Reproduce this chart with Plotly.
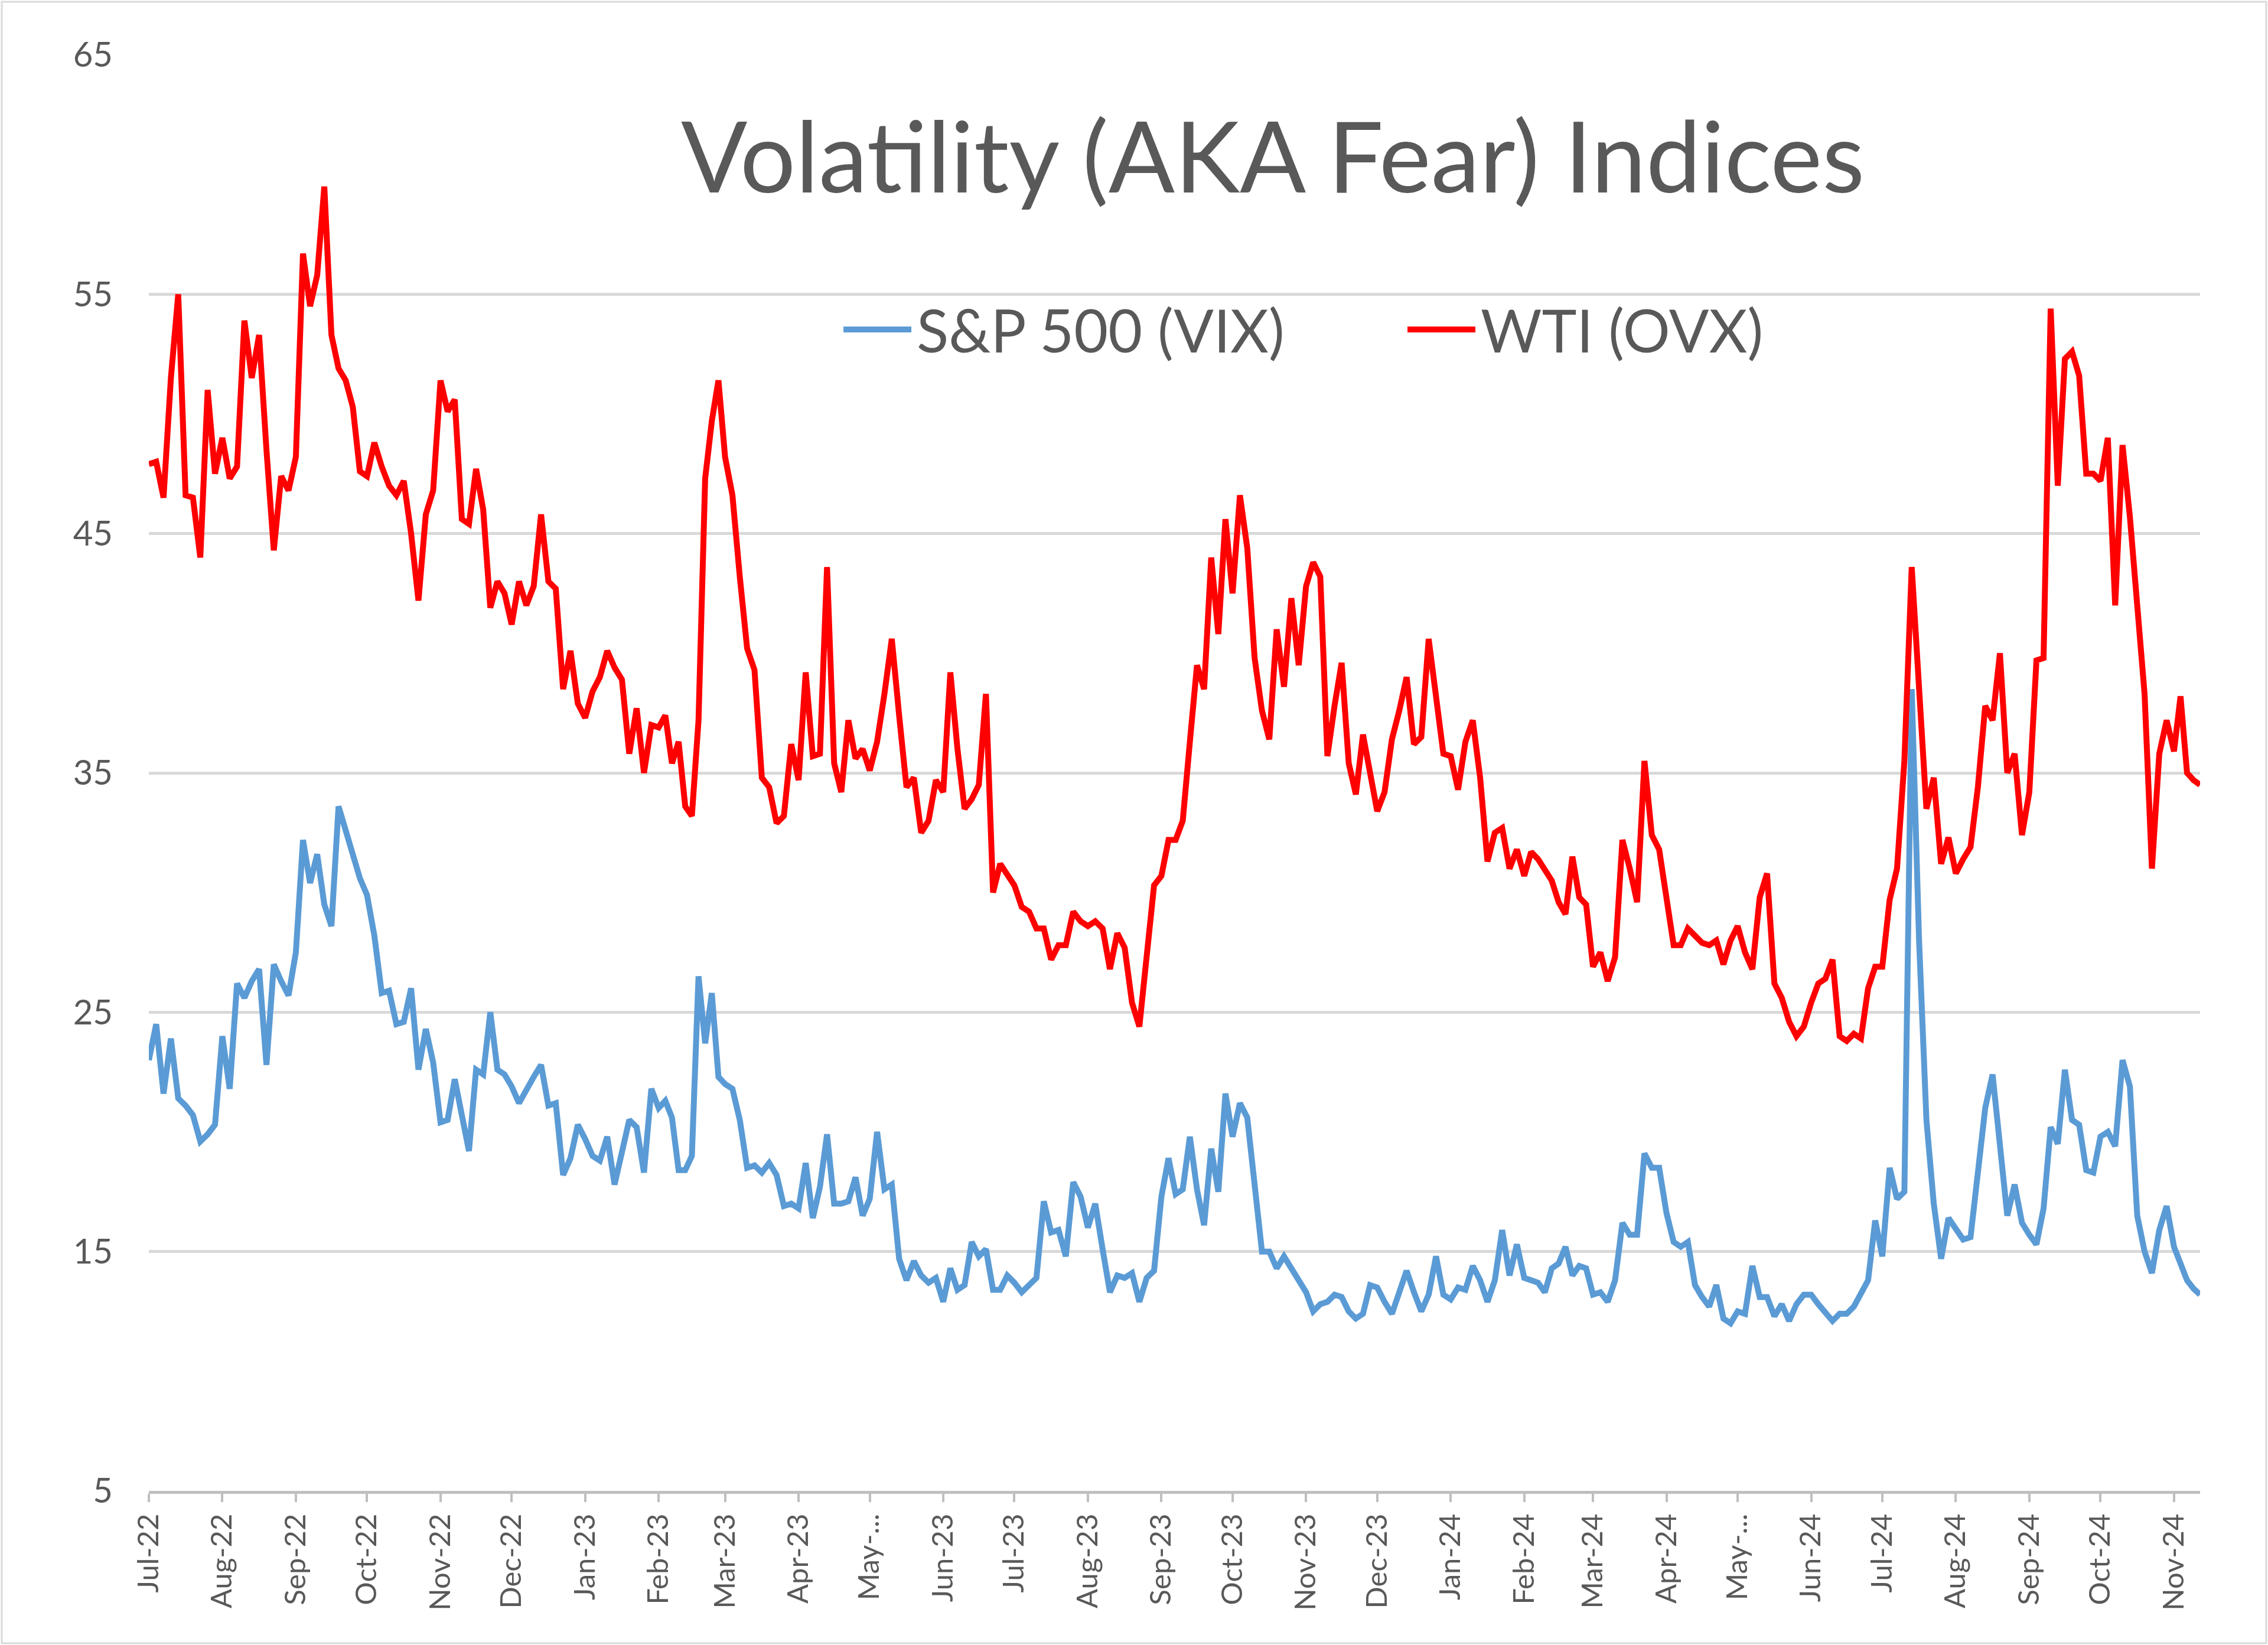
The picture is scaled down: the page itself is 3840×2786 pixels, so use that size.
import pandas as pd
import plotly.graph_objects as go

# Month tick labels (as shown on the reference x axis)
tick_labels = ["Jul-22", "Aug-22", "Sep-22", "Oct-22", "Nov-22", "Dec-22",
               "Jan-23", "Feb-23", "Mar-23", "Apr-23", "May-...", "Jun-23",
               "Jul-23", "Aug-23", "Sep-23", "Oct-23", "Nov-23", "Dec-23",
               "Jan-24", "Feb-24", "Mar-24", "Apr-24", "May-...", "Jun-24",
               "Jul-24", "Aug-24", "Sep-24", "Oct-24", "Nov-24"]
month_starts = pd.date_range("2022-07-01", "2024-11-01", freq="MS")
end_date = pd.Timestamp("2024-11-12")
PER_MONTH = 10  # readings per month (last month is partial)

# S&P 500 volatility (VIX), 10 readings per month
vix = [
    23.0, 24.5, 21.6, 23.9, 21.4, 21.1, 20.7, 19.6, 19.9, 20.3,   # Jul-22
    24.0, 21.8, 26.2, 25.6, 26.3, 26.8, 22.8, 27.0, 26.3, 25.7,   # Aug-22
    27.5, 32.2, 30.4, 31.6, 29.5, 28.6, 33.6, 32.6, 31.8, 30.6,   # Sep-22
    29.9, 28.2, 25.8, 25.9, 24.5, 24.6, 26.0, 22.6, 24.3, 22.9,   # Oct-22
    20.4, 20.5, 22.2, 20.8, 19.2, 22.6, 22.4, 25.0, 22.6, 22.4,   # Nov-22
    21.9, 21.2, 21.8, 22.3, 22.8, 21.1, 21.2, 18.2, 18.9, 20.3,   # Dec-22
    19.7, 19.0, 18.8, 19.8, 17.8, 19.2, 20.5, 20.2, 18.3, 21.8,   # Jan-23
    21.0, 21.3, 20.6, 18.4, 18.4, 19.0, 26.5, 23.7, 25.8, 22.3,   # Feb-23
    22.0, 21.8, 20.5, 18.5, 18.6, 18.3, 18.7, 18.2, 16.9, 17.0,   # Mar-23
    16.8, 18.7, 16.4, 17.7, 19.9, 17.0, 17.0, 17.1, 18.1, 16.5,   # Apr-23
    17.2, 20.0, 17.6, 17.8, 14.7, 13.8, 14.6, 14.0, 13.7, 13.9,   # May-23
    12.9, 14.3, 13.4, 13.6, 15.4, 14.8, 15.1, 13.4, 13.4, 14.0,   # Jun-23
    13.7, 13.3, 13.6, 13.9, 17.1, 15.8, 15.9, 14.8, 17.9, 17.3,   # Jul-23
    16.0, 17.0, 15.1, 13.3, 14.0, 13.9, 14.1, 12.9, 13.9, 14.2,   # Aug-23
    17.3, 18.9, 17.4, 17.6, 19.8, 17.6, 16.1, 19.3, 17.5, 21.6,   # Sep-23
    19.8, 21.2, 20.6, 17.5, 15.0, 15.0, 14.3, 14.8, 14.3, 13.7,   # Oct-23
    13.3, 12.5, 12.8, 12.9, 13.2, 13.1, 12.5, 12.2, 12.4, 13.6,   # Nov-23
    13.5, 12.9, 12.4, 13.3, 14.2, 13.3, 12.5, 13.2, 14.8, 13.2,   # Dec-23
    13.0, 13.5, 13.4, 14.4, 13.8, 12.9, 13.8, 15.9, 14.0, 15.3,   # Jan-24
    13.9, 13.8, 13.7, 13.3, 14.3, 14.5, 15.2, 14.0, 14.4, 14.3,   # Feb-24
    13.2, 13.3, 12.9, 13.8, 16.2, 15.7, 15.7, 19.1, 18.5, 18.5,   # Mar-24
    16.6, 15.4, 15.2, 15.4, 13.6, 13.1, 12.7, 13.6, 12.2, 12.0,   # Apr-24
    12.5, 12.4, 14.4, 13.1, 13.1, 12.3, 12.8, 12.1, 12.8, 13.2,   # May-24
    13.2, 12.8, 12.4, 12.1, 12.4, 12.4, 12.7, 13.2, 13.8, 16.3,   # Jun-24
    14.8, 18.5, 17.2, 17.5, 38.5, 28.0, 20.5, 17.0, 14.7, 16.4,   # Jul-24
    16.0, 15.5, 15.6, 18.5, 21.0, 22.4, 19.3, 16.5, 17.8, 16.2,   # Aug-24
    15.7, 15.3, 16.8, 20.2, 19.5, 22.6, 20.5, 20.3, 18.4, 18.3,   # Sep-24
    19.8, 20.0, 19.4, 23.0, 21.9, 16.5, 15.0, 14.1, 15.9, 16.9,   # Oct-24
    15.2, 14.5, 13.8, 13.45, 13.2,                                # Nov-24
]

# Crude oil volatility (OVX), 10 readings per month
ovx = [
    47.9, 48.0, 46.5, 51.5, 55.0, 46.6, 46.5, 44.0, 51.0, 47.5,   # Jul-22
    49.0, 47.3, 47.8, 53.9, 51.5, 53.3, 48.5, 44.3, 47.4, 46.8,   # Aug-22
    48.2, 56.7, 54.5, 55.8, 59.5, 53.3, 51.9, 51.4, 50.3, 47.6,   # Sep-22
    47.4, 48.8, 47.8, 47.0, 46.6, 47.2, 45.0, 42.2, 45.8, 46.8,   # Oct-22
    51.4, 50.1, 50.6, 45.6, 45.4, 47.7, 46.0, 41.9, 43.0, 42.5,   # Nov-22
    41.2, 43.0, 42.0, 42.8, 45.8, 43.0, 42.7, 38.5, 40.1, 37.9,   # Dec-22
    37.3, 38.4, 39.0, 40.1, 39.4, 38.9, 35.8, 37.7, 35.0, 37.0,   # Jan-23
    36.9, 37.4, 35.4, 36.3, 33.6, 33.2, 37.2, 47.3, 49.7, 51.4,   # Feb-23
    48.2, 46.6, 43.2, 40.2, 39.3, 34.8, 34.4, 32.9, 33.2, 36.2,   # Mar-23
    34.7, 39.2, 35.7, 35.8, 43.6, 35.4, 34.2, 37.2, 35.6, 36.0,   # Apr-23
    35.1, 36.3, 38.3, 40.6, 37.4, 34.4, 34.8, 32.5, 33.0, 34.7,   # May-23
    34.2, 39.2, 36.0, 33.5, 33.9, 34.5, 38.3, 30.0, 31.2, 30.8,   # Jun-23
    30.3, 29.4, 29.2, 28.5, 28.5, 27.2, 27.8, 27.8, 29.2, 28.8,   # Jul-23
    28.6, 28.8, 28.5, 26.8, 28.3, 27.7, 25.4, 24.4, 27.2, 30.3,   # Aug-23
    30.7, 32.2, 32.2, 33.0, 36.3, 39.5, 38.5, 44.0, 40.8, 45.6,   # Sep-23
    42.5, 46.6, 44.4, 39.8, 37.6, 36.4, 41.0, 38.6, 42.3, 39.5,   # Oct-23
    42.8, 43.8, 43.2, 35.7, 37.8, 39.6, 35.4, 34.1, 36.6, 35.1,   # Nov-23
    33.4, 34.2, 36.4, 37.6, 39.0, 36.2, 36.5, 40.6, 38.4, 35.8,   # Dec-23
    35.7, 34.3, 36.3, 37.2, 34.8, 31.3, 32.5, 32.7, 31.0, 31.8,   # Jan-24
    30.7, 31.7, 31.4, 30.9, 30.5, 29.6, 29.1, 31.5, 29.8, 29.5,   # Feb-24
    26.9, 27.5, 26.3, 27.3, 32.2, 31.0, 29.6, 35.5, 32.4, 31.8,   # Mar-24
    29.9, 27.8, 27.8, 28.5, 28.2, 27.9, 27.8, 28.0, 27.0, 28.0,   # Apr-24
    28.6, 27.5, 26.8, 29.8, 30.8, 26.2, 25.6, 24.6, 24.0, 24.4,   # May-24
    25.4, 26.2, 26.4, 27.2, 24.0, 23.8, 24.1, 23.9, 26.0, 26.9,   # Jun-24
    26.9, 29.7, 31.0, 35.5, 43.6, 38.0, 33.5, 34.8, 31.2, 32.3,   # Jul-24
    30.8, 31.4, 31.9, 34.4, 37.8, 37.2, 40.0, 35.0, 35.8, 32.4,   # Aug-24
    34.2, 39.7, 39.8, 54.4, 47.0, 52.3, 52.6, 51.6, 47.5, 47.5,   # Sep-24
    47.2, 49.0, 42.0, 48.7, 45.7, 42.0, 38.3, 31.0, 35.8, 37.2,   # Oct-24
    35.9, 38.2, 35.0, 34.7, 34.5,                                 # Nov-24
]


def reading_dates(n):
    """Spread each month's readings evenly across that month."""
    xs = []
    last = len(month_starts) - 1
    for i in range(n):
        m, j = divmod(i, PER_MONTH)
        start = month_starts[m]
        if m >= last:
            k = n - last * PER_MONTH
            step = (end_date - start) / max(k - 1, 1)
            xs.append(start + step * j)
        else:
            xs.append(start + (month_starts[m + 1] - start) * j / PER_MONTH)
    return xs


BLUE = "#5B9BD5"
RED = "#FF0000"
GREY_TXT = "#595959"
FONT = "Lato"

fig = go.Figure()
fig.add_trace(go.Scatter(x=reading_dates(len(vix)), y=vix, mode="lines",
                         name="S&P 500 (VIX)",
                         line=dict(color=BLUE, width=10)))
fig.add_trace(go.Scatter(x=reading_dates(len(ovx)), y=ovx, mode="lines",
                         name="WTI (OVX)",
                         line=dict(color=RED, width=10)))

W, H = 3840, 2786
ML, MR, MT, MB = 252, 115, 93, 261
PW, PH = W - ML - MR, H - MT - MB


def px(xpix):
    return (xpix - ML) / PW


def py(ypix):
    return 1 - (ypix - MT) / PH


fig.update_layout(
    width=W, height=H, autosize=False,
    margin=dict(l=ML, r=MR, t=MT, b=MB, pad=0),
    paper_bgcolor="white", plot_bgcolor="white",
    showlegend=False,
    font=dict(family=FONT, color=GREY_TXT),
)

fig.update_yaxes(range=[5, 65], tick0=5, dtick=10, showgrid=True,
                 gridcolor="#D9D9D9", gridwidth=5, zeroline=False,
                 showline=False, ticks="", ticklabelstandoff=60,
                 tickfont=dict(size=58, color=GREY_TXT, family=FONT))

fig.update_xaxes(type="date", range=[month_starts[0], end_date],
                 tickmode="array", tickvals=list(month_starts),
                 ticktext=tick_labels, tickangle=-90, showgrid=False,
                 showline=True, linecolor="#BFBFBF", linewidth=5,
                 ticks="outside", ticklen=14, tickwidth=4, tickcolor="#BFBFBF",
                 tickfont=dict(size=49, color=GREY_TXT, family=FONT))

# Title
fig.add_annotation(text="Volatility (AKA Fear) Indices", xref="paper",
                   yref="paper", x=px(2155), y=py(262), showarrow=False,
                   xanchor="center", yanchor="middle",
                   font=dict(size=166, color=GREY_TXT, family=FONT))

# Legend (line sample + label)
leg_y = py(558)
for x0, x1, tx, col, label in [(1428, 1543, 1550, BLUE, "S&P 500 (VIX)"),
                               (2383, 2498, 2505, RED, "WTI (OVX)")]:
    fig.add_shape(type="line", xref="paper", yref="paper",
                  x0=px(x0), x1=px(x1), y0=leg_y, y1=leg_y,
                  line=dict(color=col, width=10))
    fig.add_annotation(text=label, xref="paper", yref="paper",
                       x=px(tx), y=leg_y, showarrow=False,
                       xanchor="left", yanchor="middle",
                       font=dict(size=100, color=GREY_TXT, family=FONT))

# Chart-area border
fig.add_shape(type="rect", xref="paper", yref="paper",
              x0=px(3), x1=px(W - 3), y0=py(H - 3), y1=py(3),
              line=dict(color="#D9D9D9", width=3), fillcolor="rgba(0,0,0,0)",
              layer="below")

fig.write_html("out.html")
